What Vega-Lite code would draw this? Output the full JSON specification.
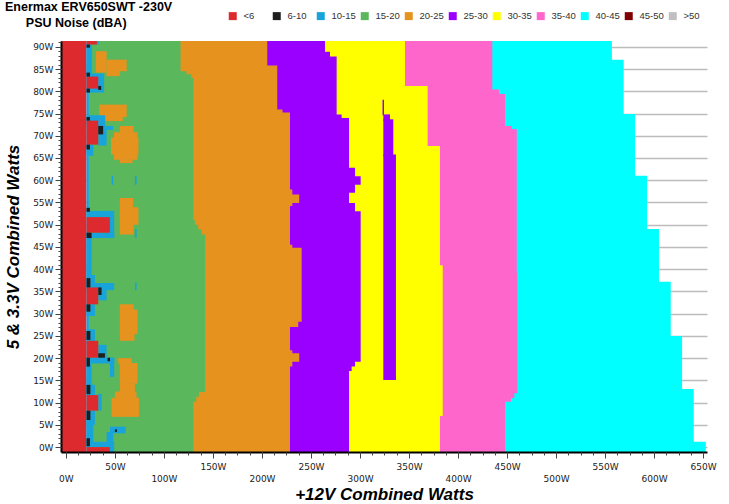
{
"$schema":"https://vega.github.io/schema/vega-lite/v6.json",
"width":646,"height":411,
"autosize":{"type":"none"},
"padding":{"left":61,"top":41,"right":22,"bottom":52},
"background":"white",
"title":{"text":"Enermax ERV650SWT -230V","subtitle":"\u200b\u00a0\u00a0\u00a0\u00a0\u00a0\u00a0PSU Noise (dBA)","anchor":"start","frame":"group","dx":-56,"offset":-18,"font":"Liberation Sans","fontSize":12.5,"fontWeight":"bold","color":"#000","subtitleFont":"Liberation Sans","subtitleFontSize":12.5,"subtitleFontWeight":"bold","subtitleColor":"#000","subtitlePadding":3},
"data":{"values":[
{"x":-5,"x2":21,"y":-1.1,"y2":91.3,"n":"<6"},
{"x":21,"x2":23.5,"y":-1.1,"y2":91.3,"n":"10-15"},
{"x":23.5,"x2":146,"y":-1.1,"y2":91.3,"n":"15-20"},
{"x":117,"x2":245,"y":84.5,"y2":91.3,"n":"20-25"},
{"x":123,"x2":245,"y":83.8,"y2":84.9,"n":"20-25"},
{"x":128,"x2":245,"y":83.0,"y2":84.2,"n":"20-25"},
{"x":130,"x2":245,"y":51.1,"y2":83.4,"n":"20-25"},
{"x":131.6,"x2":245,"y":50.0,"y2":51.5,"n":"20-25"},
{"x":135,"x2":245,"y":48.9,"y2":50.4,"n":"20-25"},
{"x":138.4,"x2":245,"y":47.8,"y2":49.3,"n":"20-25"},
{"x":142,"x2":245,"y":12.0,"y2":48.2,"n":"20-25"},
{"x":135.7,"x2":245,"y":10.9,"y2":12.4,"n":"20-25"},
{"x":133,"x2":245,"y":9.8,"y2":11.3,"n":"20-25"},
{"x":130,"x2":245,"y":-1.1,"y2":10.2,"n":"20-25"},
{"x":205.4,"x2":305,"y":85.8,"y2":91.3,"n":"25-30"},
{"x":215.6,"x2":305,"y":75.9,"y2":86.2,"n":"25-30"},
{"x":221,"x2":305,"y":75.2,"y2":76.3,"n":"25-30"},
{"x":228.6,"x2":305,"y":57.9,"y2":75.6,"n":"25-30"},
{"x":231,"x2":305,"y":56.8,"y2":58.3,"n":"25-30"},
{"x":238,"x2":305,"y":54.5,"y2":57.2,"n":"25-30"},
{"x":231,"x2":305,"y":53.8,"y2":54.9,"n":"25-30"},
{"x":228.6,"x2":305,"y":45.5,"y2":54.2,"n":"25-30"},
{"x":231,"x2":305,"y":44.8,"y2":45.9,"n":"25-30"},
{"x":240.5,"x2":305,"y":27.8,"y2":45.2,"n":"25-30"},
{"x":237,"x2":305,"y":26.6,"y2":28.2,"n":"25-30"},
{"x":228.6,"x2":305,"y":21.8,"y2":27.0,"n":"25-30"},
{"x":231,"x2":305,"y":21.1,"y2":22.2,"n":"25-30"},
{"x":238,"x2":305,"y":18.8,"y2":21.5,"n":"25-30"},
{"x":231,"x2":305,"y":17.7,"y2":19.2,"n":"25-30"},
{"x":228.6,"x2":305,"y":-1.1,"y2":18.1,"n":"25-30"},
{"x":264.3,"x2":390,"y":88.9,"y2":91.3,"n":"30-35"},
{"x":269.4,"x2":390,"y":87.8,"y2":89.3,"n":"30-35"},
{"x":276.2,"x2":390,"y":74.8,"y2":88.2,"n":"30-35"},
{"x":281.3,"x2":390,"y":74.0,"y2":75.2,"n":"30-35"},
{"x":288.8,"x2":390,"y":62.8,"y2":74.4,"n":"30-35"},
{"x":294.9,"x2":390,"y":60.9,"y2":63.2,"n":"30-35"},
{"x":300.7,"x2":390,"y":58.6,"y2":61.3,"n":"30-35"},
{"x":294.9,"x2":390,"y":56.8,"y2":59.0,"n":"30-35"},
{"x":288.8,"x2":390,"y":54.9,"y2":57.2,"n":"30-35"},
{"x":294.9,"x2":390,"y":53.0,"y2":55.3,"n":"30-35"},
{"x":300.7,"x2":390,"y":18.8,"y2":53.4,"n":"30-35"},
{"x":294.9,"x2":390,"y":17.7,"y2":19.2,"n":"30-35"},
{"x":291.5,"x2":390,"y":16.7,"y2":18.1,"n":"30-35"},
{"x":288.8,"x2":390,"y":-1.1,"y2":17.1,"n":"30-35"},
{"x":323,"x2":324.5,"y":74.6,"y2":78.1,"n":"25-30"},
{"x":323.8,"x2":330.6,"y":73.3,"y2":74.8,"n":"25-30"},
{"x":323.8,"x2":334,"y":65.4,"y2":73.7,"n":"25-30"},
{"x":323.8,"x2":336.7,"y":15.1,"y2":65.8,"n":"25-30"},
{"x":345.9,"x2":462,"y":81.2,"y2":91.3,"n":"35-40"},
{"x":369,"x2":462,"y":67.7,"y2":81.6,"n":"35-40"},
{"x":381.6,"x2":462,"y":40.9,"y2":68.1,"n":"35-40"},
{"x":384.4,"x2":462,"y":6.6,"y2":41.3,"n":"35-40"},
{"x":381.6,"x2":462,"y":-1.1,"y2":7.0,"n":"35-40"},
{"x":435,"x2":462,"y":80.4,"y2":91.3,"n":"40-45"},
{"x":441.8,"x2":462,"y":79.4,"y2":80.8,"n":"40-45"},
{"x":448,"x2":462,"y":72.2,"y2":79.8,"n":"40-45"},
{"x":454.8,"x2":462,"y":71.5,"y2":72.6,"n":"40-45"},
{"x":460,"x2":462,"y":39.1,"y2":71.9,"n":"40-45"},
{"x":460.5,"x2":462,"y":11.7,"y2":39.5,"n":"40-45"},
{"x":457.5,"x2":462,"y":10.6,"y2":12.1,"n":"40-45"},
{"x":454,"x2":462,"y":9.8,"y2":11.0,"n":"40-45"},
{"x":448,"x2":462,"y":-1.1,"y2":10.2,"n":"40-45"},
{"x":461,"x2":557,"y":86.7,"y2":91.3,"n":"40-45"},
{"x":461,"x2":569,"y":74.5,"y2":87.1,"n":"40-45"},
{"x":461,"x2":580.6,"y":60.6,"y2":74.9,"n":"40-45"},
{"x":461,"x2":592.9,"y":48.65,"y2":61.0,"n":"40-45"},
{"x":461,"x2":605,"y":36.8,"y2":49.05,"n":"40-45"},
{"x":461,"x2":617,"y":24.6,"y2":37.2,"n":"40-45"},
{"x":461,"x2":628.6,"y":12.65,"y2":25.0,"n":"40-45"},
{"x":461,"x2":640.5,"y":0.8,"y2":13.05,"n":"40-45"},
{"x":461,"x2":652.8,"y":-1.1,"y2":1.2,"n":"40-45"},
{"x":30.5,"x2":41.5,"y":84.2,"y2":89.0,"n":"20-25"},
{"x":41.4,"x2":62,"y":84.5,"y2":87.1,"n":"20-25"},
{"x":41.4,"x2":55,"y":83.4,"y2":84.6,"n":"20-25"},
{"x":34,"x2":62,"y":74.2,"y2":77.0,"n":"20-25"},
{"x":38,"x2":58,"y":73.3,"y2":74.3,"n":"20-25"},
{"x":55,"x2":69,"y":70.7,"y2":72.2,"n":"20-25"},
{"x":49,"x2":73,"y":69.5,"y2":70.8,"n":"20-25"},
{"x":46,"x2":74,"y":65.8,"y2":69.6,"n":"20-25"},
{"x":49,"x2":73,"y":64.6,"y2":65.9,"n":"20-25"},
{"x":55,"x2":68,"y":63.9,"y2":64.7,"n":"20-25"},
{"x":55,"x2":68.5,"y":53.8,"y2":56.0,"n":"20-25"},
{"x":55,"x2":74,"y":50.0,"y2":53.9,"n":"20-25"},
{"x":55,"x2":69,"y":47.8,"y2":50.1,"n":"20-25"},
{"x":55,"x2":69,"y":30.8,"y2":32.1,"n":"20-25"},
{"x":55,"x2":73,"y":25.4,"y2":30.9,"n":"20-25"},
{"x":55,"x2":70,"y":23.9,"y2":25.5,"n":"20-25"},
{"x":53.4,"x2":67,"y":18.8,"y2":20.0,"n":"20-25"},
{"x":55,"x2":73,"y":14.3,"y2":18.9,"n":"20-25"},
{"x":55,"x2":70.4,"y":12.4,"y2":14.4,"n":"20-25"},
{"x":50,"x2":72,"y":11.0,"y2":12.5,"n":"20-25"},
{"x":46.6,"x2":74.5,"y":6.8,"y2":11.1,"n":"20-25"},
{"x":21,"x2":26.5,"y":83.8,"y2":90.5,"n":"10-15"},
{"x":31.6,"x2":33.5,"y":90.5,"y2":91.3,"n":"10-15"},
{"x":21,"x2":39,"y":79.7,"y2":84.0,"n":"10-15"},
{"x":21,"x2":40,"y":72.0,"y2":74.6,"n":"10-15"},
{"x":33,"x2":48,"y":71.3,"y2":72.2,"n":"10-15"},
{"x":33,"x2":41.5,"y":67.8,"y2":71.3,"n":"10-15"},
{"x":21,"x2":28,"y":65.5,"y2":68.0,"n":"10-15"},
{"x":46.6,"x2":48.3,"y":59.0,"y2":61.0,"n":"10-15"},
{"x":70.4,"x2":72.1,"y":59.0,"y2":61.0,"n":"10-15"},
{"x":21,"x2":44.9,"y":51.6,"y2":53.1,"n":"10-15"},
{"x":44.9,"x2":49.3,"y":47.0,"y2":53.1,"n":"10-15"},
{"x":21,"x2":49.3,"y":47.0,"y2":48.2,"n":"10-15"},
{"x":70.4,"x2":72.1,"y":47.0,"y2":49.0,"n":"10-15"},
{"x":21,"x2":26.2,"y":38.7,"y2":47.0,"n":"10-15"},
{"x":21,"x2":29.6,"y":36.9,"y2":38.7,"n":"10-15"},
{"x":21,"x2":49.3,"y":35.3,"y2":36.9,"n":"10-15"},
{"x":33,"x2":41.5,"y":33.0,"y2":35.3,"n":"10-15"},
{"x":70.4,"x2":72.1,"y":35.3,"y2":37.0,"n":"10-15"},
{"x":21,"x2":29.6,"y":29.5,"y2":32.1,"n":"10-15"},
{"x":21,"x2":29.6,"y":23.0,"y2":26.5,"n":"10-15"},
{"x":33,"x2":41.5,"y":20.0,"y2":23.0,"n":"10-15"},
{"x":21,"x2":49.3,"y":18.8,"y2":20.1,"n":"10-15"},
{"x":44.9,"x2":49.3,"y":15.8,"y2":20.1,"n":"10-15"},
{"x":21,"x2":26.2,"y":12.0,"y2":18.8,"n":"10-15"},
{"x":21,"x2":29.6,"y":11.5,"y2":14.0,"n":"10-15"},
{"x":33,"x2":36.4,"y":8.2,"y2":12.0,"n":"10-15"},
{"x":21,"x2":29.6,"y":5.0,"y2":8.2,"n":"10-15"},
{"x":45,"x2":61,"y":3.1,"y2":4.6,"n":"10-15"},
{"x":41.5,"x2":48.3,"y":0,"y2":3.4,"n":"10-15"},
{"x":21,"x2":45,"y":0,"y2":1.2,"n":"10-15"},
{"x":21,"x2":28,"y":1.0,"y2":6.0,"n":"10-15"},
{"x":44.9,"x2":49.3,"y":-1.1,"y2":1.3,"n":"10-15"},
{"x":21,"x2":31.6,"y":90.5,"y2":91.3,"n":"<6"},
{"x":21,"x2":33,"y":80.6,"y2":83.3,"n":"<6"},
{"x":21,"x2":33,"y":68.0,"y2":73.4,"n":"<6"},
{"x":21,"x2":44.9,"y":48.2,"y2":51.7,"n":"<6"},
{"x":21,"x2":33,"y":32.1,"y2":35.9,"n":"<6"},
{"x":21,"x2":33,"y":20.1,"y2":23.9,"n":"<6"},
{"x":21,"x2":33,"y":8.2,"y2":11.7,"n":"<6"},
{"x":21,"x2":44.9,"y":-1.1,"y2":0,"n":"<6"},
{"x":21,"x2":24.5,"y":89.8,"y2":90.5,"n":"6-10"},
{"x":21,"x2":24.5,"y":83.3,"y2":84.2,"n":"6-10"},
{"x":21,"x2":24.5,"y":79.7,"y2":80.6,"n":"6-10"},
{"x":33,"x2":36,"y":80.3,"y2":81.2,"n":"6-10"},
{"x":21,"x2":24.5,"y":73.4,"y2":74.2,"n":"6-10"},
{"x":33,"x2":38,"y":70.3,"y2":72.2,"n":"6-10"},
{"x":21,"x2":24.5,"y":66.9,"y2":68.0,"n":"6-10"},
{"x":21,"x2":24.5,"y":52.9,"y2":53.8,"n":"6-10"},
{"x":21,"x2":26.2,"y":47.0,"y2":48.2,"n":"6-10"},
{"x":21,"x2":25,"y":35.9,"y2":38.0,"n":"6-10"},
{"x":33,"x2":36.4,"y":34.2,"y2":35.9,"n":"6-10"},
{"x":21,"x2":25,"y":30.45,"y2":32.1,"n":"6-10"},
{"x":21,"x2":25,"y":24.1,"y2":26.1,"n":"6-10"},
{"x":33,"x2":39.8,"y":20.1,"y2":21.1,"n":"6-10"},
{"x":42.5,"x2":45,"y":19.3,"y2":20.1,"n":"6-10"},
{"x":21,"x2":24.5,"y":18.1,"y2":20.1,"n":"6-10"},
{"x":21,"x2":25,"y":11.9,"y2":14.0,"n":"6-10"},
{"x":21,"x2":25,"y":6.1,"y2":8.2,"n":"6-10"},
{"x":50,"x2":52,"y":3.4,"y2":4.0,"n":"6-10"},
{"x":21,"x2":24.5,"y":0.2,"y2":2.0,"n":"6-10"}
]},
"resolve":{"axis":{"x":"independent","y":"independent"}},
"layer":[
{"mark":{"type":"rect","strokeWidth":0},
 "encoding":{
  "x":{"field":"x","type":"quantitative","scale":{"domain":[-5,654],"nice":false,"zero":false},
       "axis":{"orient":"bottom","values":[50,150,250,350,450,550,650],"labelExpr":"datum.value + 'W'","tickSize":6,"labelPadding":4,"title":null,"zindex":1,"labelFlush":false}},
  "x2":{"field":"x2"},
  "y":{"field":"y","type":"quantitative","scale":{"domain":[-1.1,91.3],"nice":false,"zero":false},
       "axis":{"orient":"left","values":[0,5,10,15,20,25,30,35,40,45,50,55,60,65,70,75,80,85,90],"labelExpr":"datum.value + 'W'","tickSize":6,"labelPadding":2,"title":"5 & 3.3V Combined Watts","titlePadding":10,"zindex":1,"labelFlush":false}},
  "y2":{"field":"y2"},
  "color":{"field":"n","type":"nominal",
   "scale":{"domain":["<6","6-10","10-15","15-20","20-25","25-30","30-35","35-40","40-45","45-50",">50"],
            "range":["#DC2A2E","#1E1E1E","#18A4DA","#5BB75B","#E6921E","#9900FF","#FFFF00","#FF66CC","#00FFFF","#800000","#C0C0C0"]},
   "legend":{"orient":"none","legendX":167,"legendY":-30,"direction":"horizontal","columns":11,"title":null,"symbolType":"square","symbolSize":64,"symbolStrokeWidth":0,"symbolOpacity":1,"labelFont":"Liberation Sans","labelFontSize":9.5,"labelColor":"#333","labelOffset":6,"columnPadding":4,"gridAlign":"all"}}
 }},
{"mark":{"type":"point","opacity":0},
 "encoding":{
  "x":{"field":"x","type":"quantitative",
       "axis":{"orient":"bottom","values":[0,100,200,300,400,500,600],"labelExpr":"datum.value + 'W'","tickSize":6,"labelPadding":16,"domain":false,"title":"+12V Combined Watts","titlePadding":3,"zindex":1,"labelFlush":false}},
  "y":{"field":"y","type":"quantitative",
       "axis":{"orient":"left","values":[0,5,10,15,20,25,30,35,40,45,50,55,60,65,70,75,80,85,90],"grid":true,"gridColor":"#bcbcbc","gridWidth":1.5,"labels":false,"ticks":false,"domain":false,"title":null,"zindex":0}}
 }},
{"mark":{"type":"point","opacity":0},
 "encoding":{
  "x":{"field":"x","type":"quantitative",
       "axis":{"orient":"bottom","values":[0,12.5,25,37.5,50,62.5,75,87.5,100,112.5,125,137.5,150,162.5,175,187.5,200,212.5,225,237.5,250,262.5,275,287.5,300,312.5,325,337.5,350,362.5,375,387.5,400,412.5,425,437.5,450,462.5,475,487.5,500,512.5,525,537.5,550,562.5,575,587.5,600,612.5,625,637.5,650],"tickSize":3,"labels":false,"domain":false,"title":null,"zindex":1}},
  "y":{"field":"y","type":"quantitative",
       "axis":{"orient":"left","values":[0,1,2,3,4,5,6,7,8,9,10,11,12,13,14,15,16,17,18,19,20,21,22,23,24,25,26,27,28,29,30,31,32,33,34,35,36,37,38,39,40,41,42,43,44,45,46,47,48,49,50,51,52,53,54,55,56,57,58,59,60,61,62,63,64,65,66,67,68,69,70,71,72,73,74,75,76,77,78,79,80,81,82,83,84,85,86,87,88,89,90,91],"tickSize":3,"labels":false,"domain":false,"title":null,"zindex":1}}
 }}
],
"config":{"view":{"stroke":null},
 "axis":{"labelFont":"DejaVu Sans","labelFontSize":9,"labelColor":"#222","tickColor":"#444","titleFont":"Liberation Sans","titleFontSize":17,"titleFontWeight":"bold","titleFontStyle":"italic","titleColor":"#000","domainColor":"#000","domainWidth":2,"grid":false}}
}
